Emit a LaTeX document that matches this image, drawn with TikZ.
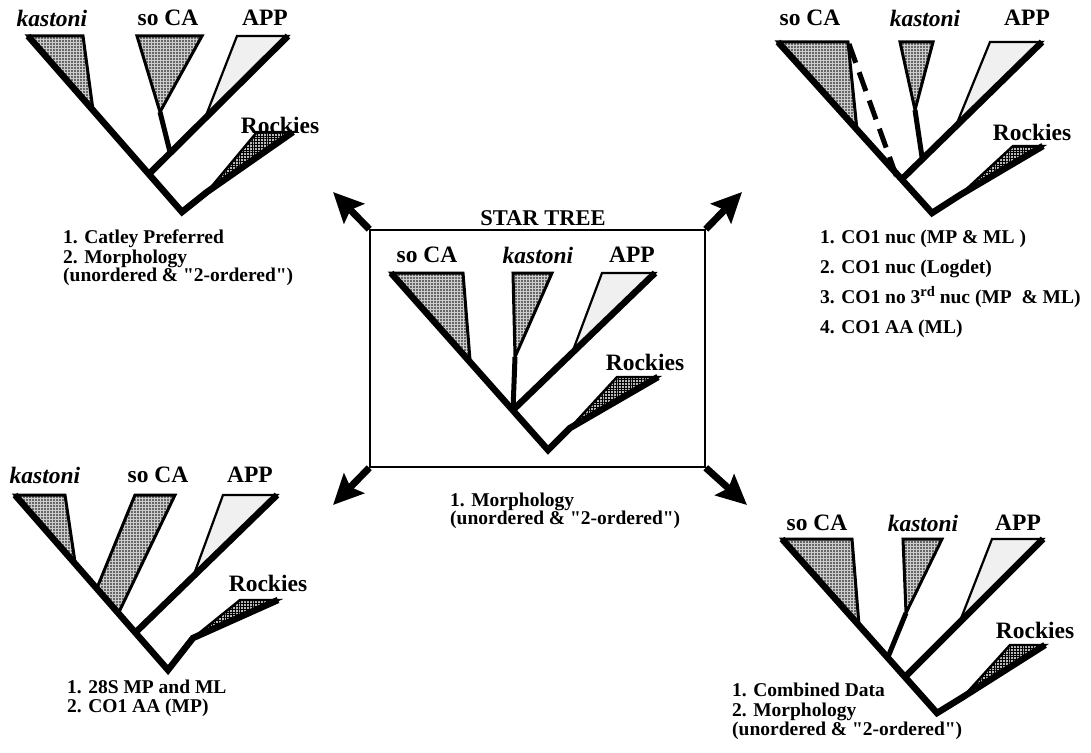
\documentclass[tikz,border=0pt]{standalone}
\usepackage{fontspec}
\setmainfont{Liberation Serif}[Ligatures=TeXOff]
\usetikzlibrary{arrows.meta,patterns.meta}
\begin{document}
\begin{tikzpicture}[x=1pt,y=-1pt,
  branch/.style={line width=6.5pt, line join=miter, line cap=butt},
  stembr/.style={line width=5pt, line cap=butt},
  stipple/.style={preaction={fill=gray!40},
    preaction={pattern={Dots[distance=3pt,radius=0.85pt]}, pattern color=black},
    draw, line width=3pt, line join=miter},
  hatched/.style={preaction={fill=gray!55},
    preaction={pattern={Hatch[distance=2.8pt,line width=0.8pt]}, pattern color=black},
    draw, line width=2.4pt, line join=miter},
  pale/.style={fill=gray!12, draw, line width=2.2pt, line join=miter},
  taxon/.style={font=\fontsize{23.5}{23.5}\selectfont\bfseries, inner sep=0pt},
  taxonit/.style={taxon, font=\fontsize{23.5}{23.5}\selectfont\bfseries\itshape},
  caption/.style={font=\fontsize{19.5}{19.5}\selectfont\bfseries, inner sep=0pt, anchor=base west},
  bigarrow/.style={line width=7pt, -{Stealth[length=30pt,width=28pt,inset=5pt]}},
  dashbranch/.style={line width=5pt, dash pattern=on 20pt off 10pt}
]
\path[fill=white] (0,0) rectangle (1091,752);
\useasboundingbox (0,0) rectangle (1091,752);

% ---------------- central star tree ----------------
\node[draw, line width=1.5pt, minimum width=335pt, minimum height=237pt, inner sep=0pt] (box) at (537.5,348.5) {};
\node[taxon, font=\fontsize{22.5}{22.5}\selectfont\bfseries] (startitle) at (543,218) {STAR TREE};

\coordinate (cR) at (548,450);
\coordinate (cN) at (513,410);
\draw[stipple] (391,273) -- (463,273) -- (470,360) -- cycle;
\draw[stipple] (513,273) -- (552,273) -- (515,357) -- cycle;
\draw[pale] (602,273) -- (655,273) -- (572,353) -- cycle;
\draw[hatched] (617,377) -- (658,377) -- (570,428) -- cycle;
\coordinate (cSo) at (391,273);
\coordinate (cApp) at (655,273);
\coordinate (cRa) at (570,428);
\coordinate (cRo) at (658,377);
\coordinate (cKa) at (515,357);
\draw[branch] (cSo) -- (cR) -- (cRa) -- (cRo);
\draw[branch] (cN) -- (cApp);
\draw[stembr] (cKa) -- (cN);
\node[taxon] (cl1) at (427,255) {so CA};
\node[taxonit] (cl2) at (538,255) {kastoni};
\node[taxon] (cl3) at (632,255) {APP};
\node[taxon] (cl4) at (645,362) {Rockies};
\node[caption] (cc1) at (450,506) {1. Morphology};
\node[caption] (cc2) at (450,524.5) {(unordered \& "2-ordered")};

% arrows from the star tree to the four resolved trees
\coordinate (tipNW) at (333,192);
\coordinate (tipNE) at (742,192);
\coordinate (tipSW) at (333,505);
\coordinate (tipSE) at (747,505);
\draw[bigarrow] (box.north west) -- (tipNW);
\draw[bigarrow] (box.north east) -- (tipNE);
\draw[bigarrow] (box.south west) -- (tipSW);
\draw[bigarrow] (box.south east) -- (tipSE);

% ---------------- top left ----------------
\coordinate (tlR) at (182,212);
\coordinate (tlN) at (150,173);
\draw[stipple] (28,36) -- (83,36) -- (93,110) -- cycle;
\draw[stipple] (137,36) -- (202,36) -- (160,112) -- cycle;
\draw[pale] (237,36) -- (288,36) -- (205,118) -- cycle;
\draw[hatched] (257,132) -- (293,132) -- (207,192) -- cycle;
\coordinate (tlKa) at (28,36);
\coordinate (tlApp) at (288,36);
\coordinate (tlRa) at (207,192);
\coordinate (tlRo) at (293,132);
\coordinate (tlSo) at (160,112);
\coordinate (tlSoB) at (170,152);
\draw[branch] (tlKa) -- (tlR) -- (tlRa) -- (tlRo);
\draw[branch] (tlN) -- (tlApp);
\draw[stembr] (tlSo) -- (tlSoB);
\node[taxonit] (tll1) at (52,18) {kastoni};
\node[taxon] (tll2) at (168,18) {so CA};
\node[taxon] (tll3) at (265,18) {APP};
\node[taxon] (tll4) at (280,125) {Rockies};
\node[caption] (tlc1) at (63,243) {1. Catley Preferred};
\node[caption] (tlc2) at (63,263) {2. Morphology};
\node[caption] (tlc3) at (63,281.5) {(unordered \& "2-ordered")};

% ---------------- top right ----------------
\coordinate (trR) at (932,213);
\coordinate (trN) at (901,180);
\draw[stipple] (778,42) -- (848,42) -- (857,130) -- cycle;
\draw[stipple] (900,42) -- (933,42) -- (915,110) -- cycle;
\draw[pale] (990,42) -- (1042,42) -- (957,123) -- cycle;
\draw[hatched] (1013,146) -- (1043,146) -- (960,195) -- cycle;
\coordinate (trSo) at (778,42);
\coordinate (trApp) at (1042,42);
\coordinate (trRa) at (960,195);
\coordinate (trRo) at (1043,146);
\coordinate (trKa) at (915,110);
\coordinate (trKaB) at (922,157);
\coordinate (trD1) at (849,44);
\coordinate (trD2) at (897,178);
\draw[branch] (trSo) -- (trR) -- (trRa) -- (trRo);
\draw[branch] (trN) -- (trApp);
\draw[stembr] (trKa) -- (trKaB);
\draw[dashbranch] (trD1) -- (trD2);
\node[taxon] (trl1) at (810,18) {so CA};
\node[taxonit] (trl2) at (925,18) {kastoni};
\node[taxon] (trl3) at (1027,18) {APP};
\node[taxon] (trl4) at (1032,132) {Rockies};
\node[caption] (trc1) at (820,243) {1. CO1 nuc (MP \& ML )};
\node[caption] (trc2) at (820,273) {2. CO1 nuc (Logdet)};
\node[caption] (trc3) at (820,303) {3. CO1 no 3\raisebox{7pt}{\fontsize{14.5}{14.5}\selectfont rd} nuc (MP\ \ \& ML)};
\node[caption] (trc4) at (820,333) {4. CO1 AA (ML)};

% ---------------- bottom left ----------------
\coordinate (blR) at (168,670);
\coordinate (blN) at (136,632);
\draw[stipple] (15,495) -- (65,495) -- (75,562) -- cycle;
\draw[stipple] (97,588) -- (135,495) -- (175,495) -- (119,612) -- cycle;
\draw[pale] (223,495) -- (277,495) -- (193,577) -- cycle;
\draw[hatched] (240,600) -- (278,600) -- (193,638) -- cycle;
\coordinate (blKa) at (15,495);
\coordinate (blApp) at (277,495);
\coordinate (blRa) at (193,638);
\coordinate (blRo) at (278,600);
\draw[branch] (blKa) -- (blR) -- (blRa) -- (blRo);
\draw[branch] (blN) -- (blApp);
\node[taxonit] (bll1) at (45,475) {kastoni};
\node[taxon] (bll2) at (158,475) {so CA};
\node[taxon] (bll3) at (250,475) {APP};
\node[taxon] (bll4) at (268,583) {Rockies};
\node[caption] (blc1) at (67,693) {1. 28S MP and ML};
\node[caption] (blc2) at (67,712) {2. CO1 AA (MP)};

% ---------------- bottom right ----------------
\coordinate (brR) at (937,713);
\coordinate (brN) at (905,677);
\draw[stipple] (782,539) -- (852,539) -- (859,625) -- cycle;
\draw[stipple] (903,539) -- (942,539) -- (906,613) -- cycle;
\draw[pale] (992,539) -- (1043,539) -- (960,621) -- cycle;
\draw[hatched] (1010,645) -- (1045,645) -- (963,697) -- cycle;
\coordinate (brSo) at (782,539);
\coordinate (brApp) at (1043,539);
\coordinate (brRa) at (963,697);
\coordinate (brRo) at (1045,645);
\coordinate (brKa) at (906,613);
\coordinate (brKaB) at (888,657);
\draw[branch] (brSo) -- (brR) -- (brRa) -- (brRo);
\draw[branch] (brN) -- (brApp);
\draw[stembr] (brKa) -- (brKaB);
\node[taxon] (brl1) at (817,523) {so CA};
\node[taxonit] (brl2) at (923,523) {kastoni};
\node[taxon] (brl3) at (1018,523) {APP};
\node[taxon] (brl4) at (1035,630) {Rockies};
\node[caption] (brc1) at (732,696) {1. Combined Data};
\node[caption] (brc2) at (732,716.5) {2. Morphology};
\node[caption] (brc3) at (732,735) {(unordered \& "2-ordered")};
\end{tikzpicture}
\end{document}
